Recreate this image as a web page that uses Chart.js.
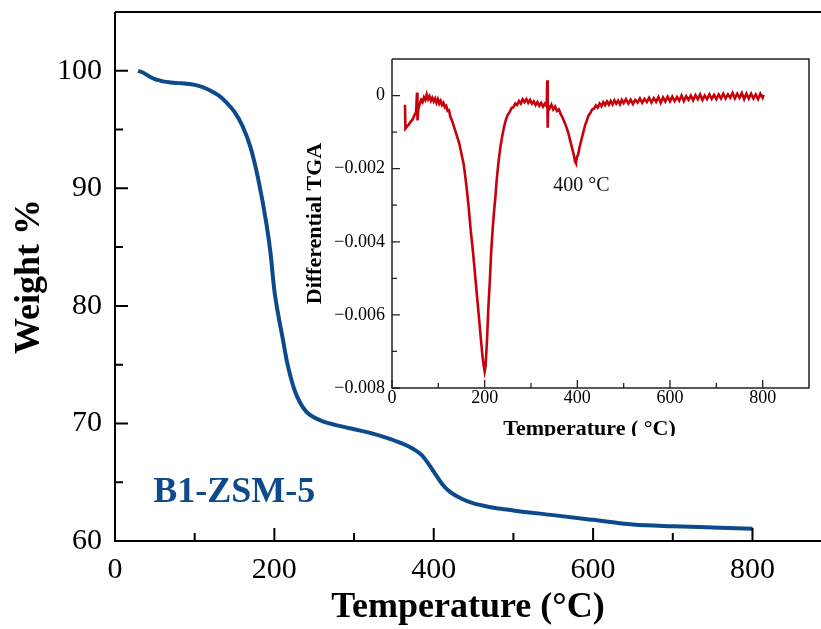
<!DOCTYPE html>
<html>
<head>
<meta charset="utf-8">
<script src="https://cdn.jsdelivr.net/npm/chart.js@4.4.1/dist/chart.umd.min.js"></script>
<style>
  body { margin: 0; background: #fff; }
  #wrap { position: relative; width: 821px; height: 629px; }
  #insetBox { position: absolute; left: 290px; top: 40px; width: 531px; height: 396px; overflow: hidden; }
</style>
</head>
<body>
<div id="wrap">
  <canvas id="tgaChart" width="821" height="629"></canvas>
  <div id="insetBox"><canvas id="dtgChart" width="531" height="410"></canvas></div>
</div>
<script>
// TGA of B1-ZSM-5, main curve (weight %)
const tgaT = [29, 35, 40, 45, 50, 55, 60, 70, 80, 90, 100, 110, 120, 130, 140, 150, 160, 170, 180, 190,
  195, 200, 205, 210, 216, 225, 232, 240, 250, 260, 275, 300, 320, 340, 360, 375, 385, 393, 400, 410,
  420, 435, 450, 470, 500, 550, 600, 650, 700, 750, 800];
const tgaW = [100.0, 99.85, 99.65, 99.45, 99.3, 99.2, 99.1, 99.0, 98.95, 98.9, 98.8, 98.6, 98.3, 97.9, 97.3, 96.5, 95.3, 93.5, 90.7, 87.0,
  84.6, 81.3, 79.2, 77.4, 75.2, 72.9, 71.8, 71.0, 70.5, 70.2, 69.9, 69.5, 69.2, 68.8, 68.3, 67.8, 67.3, 66.6, 65.9, 64.9,
  64.2, 63.6, 63.2, 62.9, 62.6, 62.2, 61.8, 61.4, 61.25, 61.15, 61.05];

// inset: differential TGA
const dtgT = [28, 29, 32, 36, 40, 44, 48, 52, 54, 55, 57, 60, 63, 66, 69, 72, 75, 78, 81, 84,
  87, 90, 93, 96, 99, 102, 105, 108, 111, 114, 117, 120, 123, 126, 130, 135, 140, 145, 150, 155,
  160, 165, 170, 175, 180, 185, 190, 195, 198, 200, 202, 205, 208, 211, 214, 217, 220, 223, 226, 230,
  234, 238, 242, 246, 250, 254, 258, 262, 266, 270, 274, 278, 282, 286, 290, 294, 298, 302, 306, 310,
  314, 318, 322, 326, 330, 334, 335, 336, 337, 340, 344, 348, 352, 356, 360, 364, 368, 372, 376, 380,
  384, 388, 392, 395, 397, 399, 402, 405, 408, 411, 414, 417, 420, 424, 428, 432, 436, 440, 444, 448,
  452, 456, 460, 464, 468, 472, 476, 480, 484, 488, 492, 496, 500, 505, 510, 515, 520, 525, 530, 535,
  540, 545, 550, 555, 560, 565, 570, 575, 580, 585, 590, 595, 600, 605, 610, 615, 620, 625, 630, 635,
  640, 645, 650, 655, 660, 665, 670, 675, 680, 685, 690, 695, 700, 705, 710, 715, 720, 725, 730, 735,
  740, 745, 750, 755, 760, 765, 770, 775, 780, 785, 790, 795, 800, 802];
const dtgV = [-0.00025, -0.0009, -0.00085, -0.0008, -0.00072, -0.00066, -0.00055, -0.00045, 0.00008, -0.00068, -0.00035, -0.00022, -0.00012, -0.00018, -0.00005, -0.00012, 0.00003, -0.0001, -0.00002, -0.00014,
  -0.00006, -0.00016, -0.00008, -0.0002, -0.0001, -0.00022, -0.00014, -0.00026, -0.0002, -0.00032, -0.00028, -0.00042, -0.0004, -0.00058, -0.0007, -0.0009, -0.0011, -0.0013, -0.0016, -0.0019,
  -0.0024, -0.003, -0.0037, -0.0043, -0.005, -0.0057, -0.0064, -0.0071, -0.0074, -0.00755, -0.0074, -0.0067, -0.0058, -0.0051, -0.0043, -0.0037, -0.0032, -0.0028, -0.0023, -0.0018,
  -0.0014, -0.0011, -0.00085, -0.00065, -0.00052, -0.00045, -0.00034, -0.00032, -0.00022, -0.00026, -0.00015, -0.00022, -0.0001, -0.00018, -0.0001, -0.0002, -0.00012, -0.00022, -0.00016, -0.00026,
  -0.00018, -0.00028, -0.0002, -0.0003, -0.00022, -0.0003, 0.00042, -0.00088, -0.00028, -0.00035, -0.00025, -0.00038, -0.0003, -0.00042, -0.00038, -0.0005, -0.0006, -0.00072, -0.00085, -0.001,
  -0.0012, -0.0014, -0.0016, -0.0018, -0.00185, -0.0017, -0.0016, -0.0014, -0.00125, -0.0011, -0.00095, -0.0008, -0.0007, -0.00055, -0.00048, -0.00038, -0.00036, -0.00027, -0.00033, -0.00022,
  -0.00029, -0.00018, -0.00026, -0.00016, -0.00025, -0.00015, -0.00024, -0.00013, -0.00022, -0.00014, -0.00024, -0.00012, -0.00021, -0.0001, -0.00022, -0.00011, -0.00023, -0.00012, -0.00019, -0.00008,
  -0.0002, -0.00009, -0.00018, -0.00006, -0.00019, -0.00007, -0.00017, -0.00004, -0.0002, -0.00005, -0.00016, -0.00003, -0.00016, -0.00003, -0.00015, -0.00004, -0.00014, 0.0, -0.00015, -0.00002,
  -0.00012, 0.0, -0.00013, 0.00001, -0.0001, 0.00003, -0.00012, 0.0, -0.0001, 0.00003, -0.00009, 0.00002, -0.0001, 0.00003, -0.00008, 0.00005, -0.00008, 0.00003, -0.00006, 0.00007,
  -0.00008, 0.00005, -0.00006, 0.00007, -0.0001, 0.00005, -0.00008, 0.00005, -0.00008, 0.00003, -0.0001, 0.00005, -0.00006, 0.00002];

// minor tick values
const mainXMinor = [100, 300, 500, 700];
const mainYMinor = [65, 75, 85, 95];
const dtgXMinor = [100, 300, 500, 700];
const dtgYMinor = [-0.007, -0.005, -0.003, -0.001];

const SERIF = "'Liberation Serif', 'Times New Roman', serif";
Chart.defaults.font.family = SERIF;
Chart.defaults.color = '#000';

// inward tick marks, frame lines and free text
const axisDecor = {
  id: 'axisDecor',
  afterDraw(chart, args, o) {
    const { ctx, chartArea: a, scales: { x, y } } = chart;
    ctx.save();
    ctx.strokeStyle = o.color;
    ctx.lineWidth = o.tickWidth;
    ctx.beginPath();
    const xt = (vals, len) => vals.forEach(v => {
      const p = x.getPixelForValue(v);
      ctx.moveTo(p, a.bottom); ctx.lineTo(p, a.bottom - len);
    });
    const yt = (vals, len) => vals.forEach(v => {
      const p = y.getPixelForValue(v);
      ctx.moveTo(a.left, p); ctx.lineTo(a.left + len, p);
    });
    xt(x.ticks.map(t => t.value), o.major);
    xt(o.xMinor, o.minor);
    yt(y.ticks.map(t => t.value), o.major);
    yt(o.yMinor, o.minor);
    ctx.stroke();

    ctx.lineWidth = o.frameWidth;
    ctx.beginPath();
    ctx.moveTo(a.left, a.top); ctx.lineTo(a.left, a.bottom); ctx.lineTo(a.right, a.bottom);
    if (o.right) ctx.lineTo(a.right, a.top);
    else ctx.moveTo(a.right, a.top);
    ctx.lineTo(a.left, a.top);
    ctx.stroke();

    (o.labels || []).forEach(l => {
      ctx.font = l.font;
      ctx.fillStyle = l.color;
      ctx.textAlign = 'left';
      ctx.textBaseline = 'alphabetic';
      ctx.fillText(l.text, x.getPixelForValue(l.x), y.getPixelForValue(l.y));
    });
    ctx.restore();
  }
};

new Chart(document.getElementById('tgaChart'), {
  type: 'line',
  data: {
    datasets: [{
      data: tgaT.map((t, i) => ({ x: t, y: tgaW[i] })),
      borderColor: '#0c4a8b',
      borderWidth: 4,
      pointRadius: 0,
      cubicInterpolationMode: 'monotone',
      fill: false
    }]
  },
  options: {
    responsive: false,
    animation: false,
    layout: { padding: { top: 12, right: 0, left: 0, bottom: 0 } },
    plugins: {
      legend: { display: false },
      tooltip: { enabled: false },
      axisDecor: {
        color: '#000', tickWidth: 2, frameWidth: 2, major: 13, minor: 8, right: false,
        xMinor: mainXMinor, yMinor: mainYMinor,
        labels: [{ text: 'B1-ZSM-5', x: 48, y: 63.3, font: 'bold 36px ' + SERIF, color: '#0c4a8b' }]
      }
    },
    scales: {
      x: {
        type: 'linear', min: 0, max: 886,
        grid: { display: false, drawTicks: false },
        border: { display: false },
        ticks: { stepSize: 200, includeBounds: false, padding: 11, font: { size: 30 }, maxRotation: 0 },
        title: { display: true, text: 'Temperature (°C)', font: { size: 36, weight: 'bold', lineHeight: 1.2 }, padding: { top: 0, bottom: 0 } },
        afterFit: s => { s.height = 88; s.paddingLeft = 0; s.paddingRight = 0; }
      },
      y: {
        min: 60, max: 105,
        grid: { display: false, drawTicks: false },
        border: { display: false },
        ticks: { stepSize: 10, includeBounds: false, padding: 13, font: { size: 30 } },
        title: { display: true, text: 'Weight %', font: { size: 36, weight: 'bold', lineHeight: 1.2 }, padding: { top: 8, bottom: 0 } },
        afterFit: s => { s.width = 115; s.paddingTop = 0; s.paddingBottom = 0; }
      }
    }
  },
  plugins: [axisDecor]
});

new Chart(document.getElementById('dtgChart'), {
  type: 'line',
  data: {
    datasets: [{
      data: dtgT.map((t, i) => ({ x: t, y: dtgV[i] })),
      borderColor: '#c8000c',
      borderWidth: 2.6,
      pointRadius: 0,
      tension: 0,
      fill: false
    }]
  },
  options: {
    responsive: false,
    animation: false,
    layout: { padding: { top: 19, right: 12, left: 0, bottom: 0 } },
    plugins: {
      legend: { display: false },
      tooltip: { enabled: false },
      axisDecor: {
        color: '#222', tickWidth: 1.3, frameWidth: 1.5, major: 8, minor: 5, right: true,
        xMinor: dtgXMinor, yMinor: dtgYMinor,
        labels: [{ text: '400 °C', x: 348, y: -0.00262, font: '20px ' + SERIF, color: '#111' }]
      }
    },
    scales: {
      x: {
        type: 'linear', min: 0, max: 900,
        grid: { display: false, drawTicks: false },
        border: { display: false },
        ticks: { stepSize: 200, includeBounds: false, padding: 1, font: { size: 18, lineHeight: 1 }, maxRotation: 0 },
        title: { display: true, text: 'Temperature ( °C)    ', font: { size: 22, weight: 'bold', lineHeight: 1.2 }, padding: { top: 0, bottom: 7 } },
        afterFit: s => { s.height = 62; s.paddingLeft = 0; s.paddingRight = 0; }
      },
      y: {
        min: -0.008, max: 0.001,
        grid: { display: false, drawTicks: false },
        border: { display: false },
        ticks: {
          stepSize: 0.002, includeBounds: false, padding: 7, font: { size: 18 },
          callback: v => Math.abs(v) < 1e-9 ? '0' : '\u2212' + Math.abs(v).toFixed(3)
        },
        title: { display: true, text: 'Differential TGA', font: { size: 22, weight: 'bold', lineHeight: 1.2 }, padding: { top: 12, bottom: 0 } },
        afterFit: s => { s.width = 102; s.paddingTop = 0; s.paddingBottom = 0; }
      }
    }
  },
  plugins: [axisDecor]
});
</script>
</body>
</html>
